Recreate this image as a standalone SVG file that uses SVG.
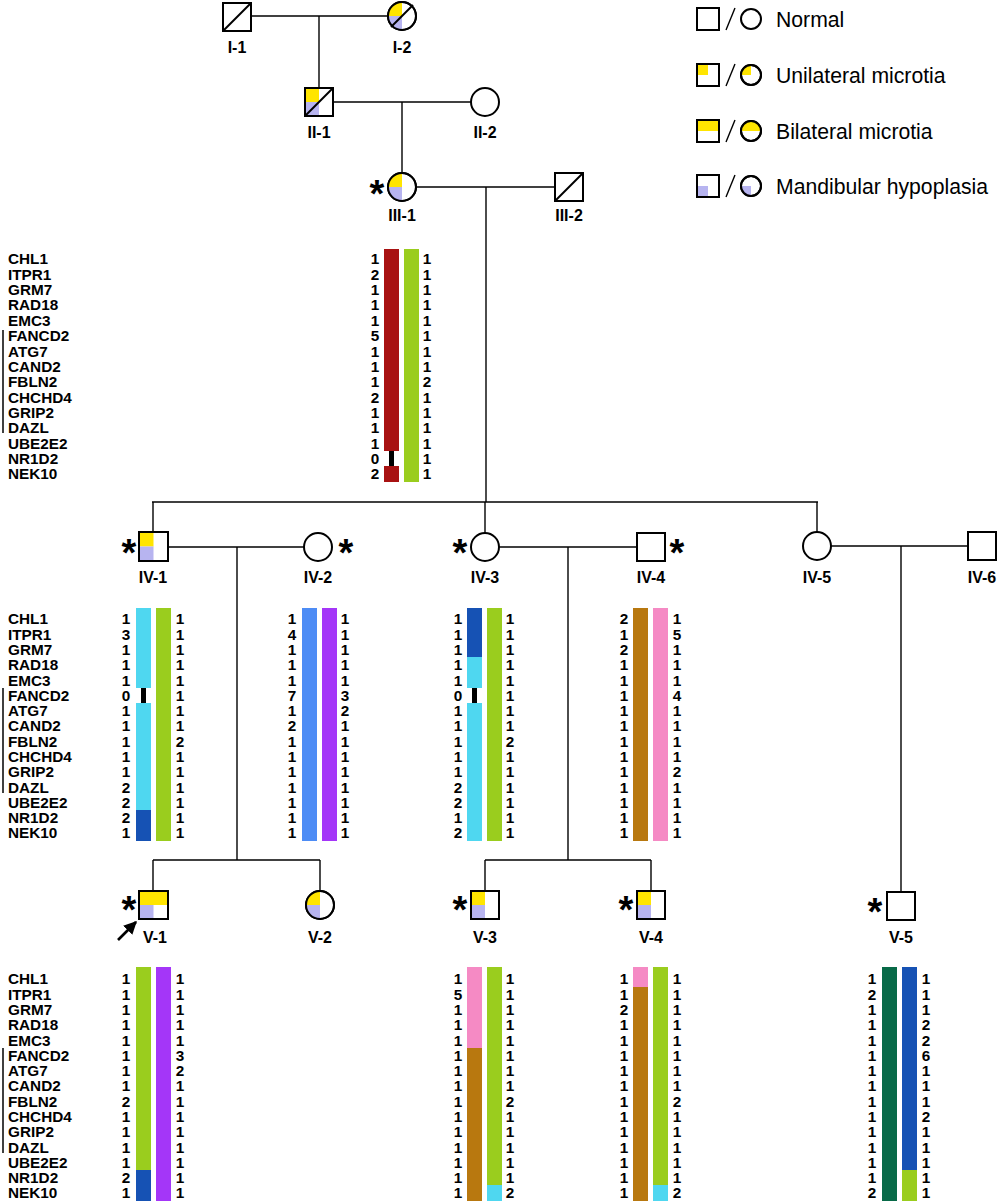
<svg xmlns="http://www.w3.org/2000/svg" width="1000" height="1202" viewBox="0 0 1000 1202">
<style>
text{font-family:"Liberation Sans",Arial,sans-serif;fill:#000}
.sym{fill:#fff;stroke:#000;stroke-width:2}
.ol{fill:none;stroke:#000;stroke-width:2}
.dg{stroke:#000;stroke-width:2}
.y{fill:#FFE500}
.m{fill:#B7B4F0}
.lbl{font-size:16px;font-weight:bold;text-anchor:middle}
.ast{font-size:38px;font-weight:bold;text-anchor:middle}
.gene{font-size:15.3px;font-weight:bold}
.n{font-size:15.3px;font-weight:bold;text-anchor:middle}
.leg{font-size:21.2px}
.con{stroke:#000;stroke-width:1.4;fill:none}
.gb{stroke:#000;stroke-width:1.5}
</style>
<defs>
<marker id="ah" viewBox="0 0 10 10" refX="9" refY="5" markerWidth="5" markerHeight="5" orient="auto"><path d="M0,0 L10,5 L0,10 Z" fill="#000"/></marker>
</defs>

<g id="connectors">
<line class="con" x1="251" y1="16" x2="388" y2="16"/>
<line class="con" x1="319" y1="16" x2="319" y2="87"/>
<line class="con" x1="334" y1="102" x2="471" y2="102"/>
<line class="con" x1="402" y1="102" x2="402" y2="173"/>
<line class="con" x1="416" y1="187" x2="555" y2="187"/>
<line class="con" x1="486" y1="187" x2="486" y2="502"/>
<line class="con" x1="152" y1="502" x2="818" y2="502"/>
<line class="con" x1="153" y1="502" x2="153" y2="532"/>
<line class="con" x1="485" y1="502" x2="485" y2="533"/>
<line class="con" x1="817" y1="502" x2="817" y2="532"/>
<line class="con" x1="168" y1="547" x2="304" y2="547"/>
<line class="con" x1="237" y1="547" x2="237" y2="860"/>
<line class="con" x1="153" y1="860" x2="320" y2="860"/>
<line class="con" x1="153" y1="860" x2="153" y2="891"/>
<line class="con" x1="320" y1="860" x2="320" y2="891"/>
<line class="con" x1="499" y1="547" x2="637" y2="547"/>
<line class="con" x1="568" y1="547" x2="568" y2="860"/>
<line class="con" x1="485" y1="860" x2="651" y2="860"/>
<line class="con" x1="485" y1="860" x2="485" y2="891"/>
<line class="con" x1="651" y1="860" x2="651" y2="891"/>
<line class="con" x1="831" y1="546" x2="968" y2="546"/>
<line class="con" x1="901" y1="546" x2="901" y2="892"/>
<line stroke="#000" stroke-width="2.6" x1="118" y1="940" x2="136" y2="922" marker-end="url(#ah)"/>
</g>

<!-- Generation I -->
<g id="I-1">
<rect class="sym" x="223" y="3" width="28" height="28"/>
<line class="dg" x1="223" y1="31" x2="251" y2="3"/>
<text class="lbl" x="237" y="53">I-1</text>
</g>
<g id="I-2">
<circle class="sym" cx="402" cy="16" r="14"/>
<path class="y" d="M402,16 L388,16 A14,14 0 0 1 402,2 Z"/>
<path class="m" d="M402,16 L402,30 A14,14 0 0 1 388,16 Z"/>
<circle class="ol" cx="402" cy="16" r="14"/>
<line class="dg" x1="391" y1="27" x2="413" y2="5"/>
<text class="lbl" x="402" y="53">I-2</text>
</g>

<!-- Generation II -->
<g id="II-1">
<rect class="sym" x="305" y="88" width="28" height="28"/>
<rect class="y" x="306" y="89" width="13" height="13"/>
<rect class="m" x="306" y="102" width="13" height="13"/>
<rect class="ol" x="305" y="88" width="28" height="28"/>
<line class="dg" x1="305" y1="116" x2="333" y2="88"/>
<text class="lbl" x="319" y="138">II-1</text>
</g>
<g id="II-2">
<circle class="sym" cx="485" cy="102" r="14"/>
<text class="lbl" x="485" y="138">II-2</text>
</g>

<!-- Generation III -->
<g id="III-1">
<circle class="sym" cx="402" cy="187" r="14"/>
<path class="y" d="M402,187 L388,187 A14,14 0 0 1 402,173 Z"/>
<path class="m" d="M402,187 L402,201 A14,14 0 0 1 388,187 Z"/>
<circle class="ol" cx="402" cy="187" r="14"/>
<text class="ast" x="377" y="207">*</text>
<text class="lbl" x="402" y="221">III-1</text>
</g>
<g id="III-2">
<rect class="sym" x="555" y="173" width="28" height="28"/>
<line class="dg" x1="555" y1="201" x2="583" y2="173"/>
<text class="lbl" x="569" y="221">III-2</text>
</g>

<!-- Generation IV -->
<g id="IV-1">
<rect class="sym" x="139" y="532" width="29" height="29"/>
<rect class="y" x="140" y="533" width="13.5" height="13.5"/>
<rect class="m" x="140" y="546.5" width="13.5" height="13.5"/>
<rect class="ol" x="139" y="532" width="29" height="29"/>
<text class="ast" x="129" y="566">*</text>
<text class="lbl" x="153" y="583">IV-1</text>
</g>
<g id="IV-2">
<circle class="sym" cx="318" cy="547" r="14"/>
<text class="ast" x="346" y="566">*</text>
<text class="lbl" x="318" y="583">IV-2</text>
</g>
<g id="IV-3">
<circle class="sym" cx="485" cy="547" r="14"/>
<text class="ast" x="460" y="566">*</text>
<text class="lbl" x="485" y="583">IV-3</text>
</g>
<g id="IV-4">
<rect class="sym" x="637" y="533" width="28" height="28"/>
<text class="ast" x="677" y="566">*</text>
<text class="lbl" x="651" y="583">IV-4</text>
</g>
<g id="IV-5">
<circle class="sym" cx="817" cy="546" r="14"/>
<text class="lbl" x="817" y="583">IV-5</text>
</g>
<g id="IV-6">
<rect class="sym" x="968" y="532" width="28" height="28"/>
<text class="lbl" x="982" y="583">IV-6</text>
</g>

<!-- Generation V -->
<g id="V-1">
<rect class="sym" x="139" y="891" width="29" height="28"/>
<rect class="y" x="140" y="892" width="27" height="13"/>
<rect class="m" x="140" y="905" width="13.5" height="13"/>
<rect class="ol" x="139" y="891" width="29" height="28"/>
<text class="ast" x="129" y="923">*</text>
<text class="lbl" x="155" y="943">V-1</text>
</g>
<g id="V-2">
<circle class="sym" cx="320" cy="905" r="14"/>
<path class="y" d="M320,905 L306,905 A14,14 0 0 1 320,891 Z"/>
<path class="m" d="M320,905 L320,919 A14,14 0 0 1 306,905 Z"/>
<circle class="ol" cx="320" cy="905" r="14"/>
<text class="lbl" x="320" y="943">V-2</text>
</g>
<g id="V-3">
<rect class="sym" x="471" y="891" width="28" height="28"/>
<rect class="y" x="472" y="892" width="13" height="13"/>
<rect class="m" x="472" y="905" width="13" height="13"/>
<rect class="ol" x="471" y="891" width="28" height="28"/>
<text class="ast" x="460" y="923">*</text>
<text class="lbl" x="485" y="943">V-3</text>
</g>
<g id="V-4">
<rect class="sym" x="637" y="891" width="28" height="28"/>
<rect class="y" x="638" y="892" width="13" height="13"/>
<rect class="m" x="638" y="905" width="13" height="13"/>
<rect class="ol" x="637" y="891" width="28" height="28"/>
<text class="ast" x="626" y="923">*</text>
<text class="lbl" x="651" y="943">V-4</text>
</g>
<g id="V-5">
<rect class="sym" x="887" y="892" width="28" height="28"/>
<text class="ast" x="875" y="925">*</text>
<text class="lbl" x="901" y="943">V-5</text>
</g>

<!-- Legend -->
<g id="legend">
<rect class="sym" x="697" y="8" width="22" height="22"/>
<line stroke="#000" stroke-width="1.4" x1="726" y1="30" x2="735" y2="8"/>
<circle class="sym" cx="751" cy="19" r="10"/>
<text class="leg" x="776" y="26.5">Normal</text>

<rect class="sym" x="697" y="64" width="22" height="22"/>
<rect class="y" x="698" y="65" width="10" height="10"/>
<rect class="ol" x="697" y="64" width="22" height="22"/>
<line stroke="#000" stroke-width="1.4" x1="726" y1="86" x2="735" y2="64"/>
<circle class="sym" cx="751" cy="75" r="10"/>
<path class="y" d="M751,75 L741,75 A10,10 0 0 1 751,65 Z"/>
<circle class="ol" cx="751" cy="75" r="10"/>
<text class="leg" x="776" y="82.5">Unilateral microtia</text>

<rect class="sym" x="697" y="120" width="22" height="22"/>
<rect class="y" x="698" y="121" width="20" height="10"/>
<rect class="ol" x="697" y="120" width="22" height="22"/>
<line stroke="#000" stroke-width="1.4" x1="726" y1="142" x2="735" y2="120"/>
<circle class="sym" cx="751" cy="131" r="10"/>
<path class="y" d="M741,131 A10,10 0 0 1 761,131 Z"/>
<circle class="ol" cx="751" cy="131" r="10"/>
<text class="leg" x="776" y="138.5">Bilateral microtia</text>

<rect class="sym" x="697" y="175" width="22" height="22"/>
<rect class="m" x="698" y="186" width="10" height="10"/>
<rect class="ol" x="697" y="175" width="22" height="22"/>
<line stroke="#000" stroke-width="1.4" x1="726" y1="197" x2="735" y2="175"/>
<circle class="sym" cx="751" cy="186" r="10"/>
<path class="m" d="M751,186 L751,196 A10,10 0 0 1 741,186 Z"/>
<circle class="ol" cx="751" cy="186" r="10"/>
<text class="leg" x="776" y="193.5">Mandibular hypoplasia</text>
</g>

<!-- Gene labels -->
<g id="genes-III" class="gene">
<line class="gb" x1="3" y1="330" x2="3" y2="433"/>
<text x="8" y="264.3">CHL1</text><text x="8" y="279.7">ITPR1</text><text x="8" y="295">GRM7</text><text x="8" y="310.4">RAD18</text><text x="8" y="325.7">EMC3</text><text x="8" y="341.1">FANCD2</text><text x="8" y="356.5">ATG7</text><text x="8" y="371.8">CAND2</text><text x="8" y="387.2">FBLN2</text><text x="8" y="402.5">CHCHD4</text><text x="8" y="417.9">GRIP2</text><text x="8" y="433.3">DAZL</text><text x="8" y="448.6">UBE2E2</text><text x="8" y="464">NR1D2</text><text x="8" y="479.3">NEK10</text>
</g>
<g id="genes-IV" class="gene">
<line class="gb" x1="3" y1="688" x2="3" y2="793"/>
<text x="8" y="624.3">CHL1</text><text x="8" y="639.6">ITPR1</text><text x="8" y="654.9">GRM7</text><text x="8" y="670.2">RAD18</text><text x="8" y="685.5">EMC3</text><text x="8" y="700.8">FANCD2</text><text x="8" y="716">ATG7</text><text x="8" y="731.3">CAND2</text><text x="8" y="746.6">FBLN2</text><text x="8" y="761.9">CHCHD4</text><text x="8" y="777.2">GRIP2</text><text x="8" y="792.5">DAZL</text><text x="8" y="807.8">UBE2E2</text><text x="8" y="823.1">NR1D2</text><text x="8" y="838.4">NEK10</text>
</g>
<g id="genes-V" class="gene">
<line class="gb" x1="3" y1="1048" x2="3" y2="1153"/>
<text x="8" y="984.3">CHL1</text><text x="8" y="999.6">ITPR1</text><text x="8" y="1014.9">GRM7</text><text x="8" y="1030.2">RAD18</text><text x="8" y="1045.5">EMC3</text><text x="8" y="1060.8">FANCD2</text><text x="8" y="1076">ATG7</text><text x="8" y="1091.3">CAND2</text><text x="8" y="1106.6">FBLN2</text><text x="8" y="1121.9">CHCHD4</text><text x="8" y="1137.2">GRIP2</text><text x="8" y="1152.5">DAZL</text><text x="8" y="1167.8">UBE2E2</text><text x="8" y="1183.1">NR1D2</text><text x="8" y="1198.4">NEK10</text>
</g>

<!-- Haplotype III-1 -->
<g id="hap-III-1">
<rect x="384" y="249" width="15" height="202" fill="#A81212"/>
<rect x="389" y="451" width="5" height="15" fill="#000"/>
<rect x="384" y="466" width="15" height="16" fill="#A81212"/>
<rect x="404" y="249" width="15" height="233" fill="#9ACD1E"/>
<g class="n">
<text x="375" y="264.3">1</text><text x="375" y="279.7">2</text><text x="375" y="295">1</text><text x="375" y="310.4">1</text><text x="375" y="325.7">1</text><text x="375" y="341.1">5</text><text x="375" y="356.5">1</text><text x="375" y="371.8">1</text><text x="375" y="387.2">1</text><text x="375" y="402.5">2</text><text x="375" y="417.9">1</text><text x="375" y="433.3">1</text><text x="375" y="448.6">1</text><text x="375" y="464">0</text><text x="375" y="479.3">2</text>
<text x="427" y="264.3">1</text><text x="427" y="279.7">1</text><text x="427" y="295">1</text><text x="427" y="310.4">1</text><text x="427" y="325.7">1</text><text x="427" y="341.1">1</text><text x="427" y="356.5">1</text><text x="427" y="371.8">1</text><text x="427" y="387.2">2</text><text x="427" y="402.5">1</text><text x="427" y="417.9">1</text><text x="427" y="433.3">1</text><text x="427" y="448.6">1</text><text x="427" y="464">1</text><text x="427" y="479.3">1</text>
</g>
</g>

<!-- Haplotype IV-1 -->
<g id="hap-IV-1">
<rect x="136" y="608" width="15" height="80" fill="#4FD7F0"/>
<rect x="141" y="688" width="5" height="15" fill="#000"/>
<rect x="136" y="703" width="15" height="107" fill="#4FD7F0"/>
<rect x="136" y="810" width="15" height="31" fill="#1652B4"/>
<rect x="156" y="608" width="15" height="233" fill="#9ACD1E"/>
<g class="n">
<text x="126" y="624.3">1</text><text x="126" y="639.6">3</text><text x="126" y="654.9">1</text><text x="126" y="670.2">1</text><text x="126" y="685.5">1</text><text x="126" y="700.8">0</text><text x="126" y="716">1</text><text x="126" y="731.3">1</text><text x="126" y="746.6">1</text><text x="126" y="761.9">1</text><text x="126" y="777.2">1</text><text x="126" y="792.5">2</text><text x="126" y="807.8">2</text><text x="126" y="823.1">2</text><text x="126" y="838.4">1</text>
<text x="180" y="624.3">1</text><text x="180" y="639.6">1</text><text x="180" y="654.9">1</text><text x="180" y="670.2">1</text><text x="180" y="685.5">1</text><text x="180" y="700.8">1</text><text x="180" y="716">1</text><text x="180" y="731.3">1</text><text x="180" y="746.6">2</text><text x="180" y="761.9">1</text><text x="180" y="777.2">1</text><text x="180" y="792.5">1</text><text x="180" y="807.8">1</text><text x="180" y="823.1">1</text><text x="180" y="838.4">1</text>
</g>
</g>

<!-- Haplotype IV-2 -->
<g id="hap-IV-2">
<rect x="302" y="608" width="15" height="233" fill="#4D8CF5"/>
<rect x="322" y="608" width="15" height="233" fill="#A436F8"/>
<g class="n">
<text x="292" y="624.3">1</text><text x="292" y="639.6">4</text><text x="292" y="654.9">1</text><text x="292" y="670.2">1</text><text x="292" y="685.5">1</text><text x="292" y="700.8">7</text><text x="292" y="716">1</text><text x="292" y="731.3">2</text><text x="292" y="746.6">1</text><text x="292" y="761.9">1</text><text x="292" y="777.2">1</text><text x="292" y="792.5">1</text><text x="292" y="807.8">1</text><text x="292" y="823.1">1</text><text x="292" y="838.4">1</text>
<text x="345" y="624.3">1</text><text x="345" y="639.6">1</text><text x="345" y="654.9">1</text><text x="345" y="670.2">1</text><text x="345" y="685.5">1</text><text x="345" y="700.8">3</text><text x="345" y="716">2</text><text x="345" y="731.3">1</text><text x="345" y="746.6">1</text><text x="345" y="761.9">1</text><text x="345" y="777.2">1</text><text x="345" y="792.5">1</text><text x="345" y="807.8">1</text><text x="345" y="823.1">1</text><text x="345" y="838.4">1</text>
</g>
</g>

<!-- Haplotype IV-3 -->
<g id="hap-IV-3">
<rect x="467" y="608" width="15" height="49" fill="#1652B4"/>
<rect x="467" y="657" width="15" height="31" fill="#4FD7F0"/>
<rect x="472" y="688" width="5" height="15" fill="#000"/>
<rect x="467" y="703" width="15" height="138" fill="#4FD7F0"/>
<rect x="487" y="608" width="15" height="233" fill="#9ACD1E"/>
<g class="n">
<text x="458" y="624.3">1</text><text x="458" y="639.6">1</text><text x="458" y="654.9">1</text><text x="458" y="670.2">1</text><text x="458" y="685.5">1</text><text x="458" y="700.8">0</text><text x="458" y="716">1</text><text x="458" y="731.3">1</text><text x="458" y="746.6">1</text><text x="458" y="761.9">1</text><text x="458" y="777.2">1</text><text x="458" y="792.5">2</text><text x="458" y="807.8">2</text><text x="458" y="823.1">1</text><text x="458" y="838.4">2</text>
<text x="510" y="624.3">1</text><text x="510" y="639.6">1</text><text x="510" y="654.9">1</text><text x="510" y="670.2">1</text><text x="510" y="685.5">1</text><text x="510" y="700.8">1</text><text x="510" y="716">1</text><text x="510" y="731.3">1</text><text x="510" y="746.6">2</text><text x="510" y="761.9">1</text><text x="510" y="777.2">1</text><text x="510" y="792.5">1</text><text x="510" y="807.8">1</text><text x="510" y="823.1">1</text><text x="510" y="838.4">1</text>
</g>
</g>

<!-- Haplotype IV-4 -->
<g id="hap-IV-4">
<rect x="633" y="608" width="15" height="233" fill="#B8780F"/>
<rect x="653" y="608" width="15" height="233" fill="#F58AC4"/>
<g class="n">
<text x="624" y="624.3">2</text><text x="624" y="639.6">1</text><text x="624" y="654.9">2</text><text x="624" y="670.2">1</text><text x="624" y="685.5">1</text><text x="624" y="700.8">1</text><text x="624" y="716">1</text><text x="624" y="731.3">1</text><text x="624" y="746.6">1</text><text x="624" y="761.9">1</text><text x="624" y="777.2">1</text><text x="624" y="792.5">1</text><text x="624" y="807.8">1</text><text x="624" y="823.1">1</text><text x="624" y="838.4">1</text>
<text x="677" y="624.3">1</text><text x="677" y="639.6">5</text><text x="677" y="654.9">1</text><text x="677" y="670.2">1</text><text x="677" y="685.5">1</text><text x="677" y="700.8">4</text><text x="677" y="716">1</text><text x="677" y="731.3">1</text><text x="677" y="746.6">1</text><text x="677" y="761.9">1</text><text x="677" y="777.2">2</text><text x="677" y="792.5">1</text><text x="677" y="807.8">1</text><text x="677" y="823.1">1</text><text x="677" y="838.4">1</text>
</g>
</g>

<!-- Haplotype V-1 -->
<g id="hap-V-1">
<rect x="136" y="967" width="15" height="203" fill="#9ACD1E"/>
<rect x="136" y="1170" width="15" height="31" fill="#1652B4"/>
<rect x="156" y="967" width="15" height="234" fill="#A436F8"/>
<g class="n">
<text x="126" y="984.3">1</text><text x="126" y="999.6">1</text><text x="126" y="1014.9">1</text><text x="126" y="1030.2">1</text><text x="126" y="1045.5">1</text><text x="126" y="1060.8">1</text><text x="126" y="1076">1</text><text x="126" y="1091.3">1</text><text x="126" y="1106.6">2</text><text x="126" y="1121.9">1</text><text x="126" y="1137.2">1</text><text x="126" y="1152.5">1</text><text x="126" y="1167.8">1</text><text x="126" y="1183.1">2</text><text x="126" y="1198.4">1</text>
<text x="180" y="984.3">1</text><text x="180" y="999.6">1</text><text x="180" y="1014.9">1</text><text x="180" y="1030.2">1</text><text x="180" y="1045.5">1</text><text x="180" y="1060.8">3</text><text x="180" y="1076">2</text><text x="180" y="1091.3">1</text><text x="180" y="1106.6">1</text><text x="180" y="1121.9">1</text><text x="180" y="1137.2">1</text><text x="180" y="1152.5">1</text><text x="180" y="1167.8">1</text><text x="180" y="1183.1">1</text><text x="180" y="1198.4">1</text>
</g>
</g>

<!-- Haplotype V-3 -->
<g id="hap-V-3">
<rect x="467" y="967" width="15" height="81" fill="#F58AC4"/>
<rect x="467" y="1048" width="15" height="153" fill="#B8780F"/>
<rect x="487" y="967" width="15" height="218" fill="#9ACD1E"/>
<rect x="487" y="1185" width="15" height="16" fill="#4FD7F0"/>
<g class="n">
<text x="458" y="984.3">1</text><text x="458" y="999.6">5</text><text x="458" y="1014.9">1</text><text x="458" y="1030.2">1</text><text x="458" y="1045.5">1</text><text x="458" y="1060.8">1</text><text x="458" y="1076">1</text><text x="458" y="1091.3">1</text><text x="458" y="1106.6">1</text><text x="458" y="1121.9">1</text><text x="458" y="1137.2">1</text><text x="458" y="1152.5">1</text><text x="458" y="1167.8">1</text><text x="458" y="1183.1">1</text><text x="458" y="1198.4">1</text>
<text x="510" y="984.3">1</text><text x="510" y="999.6">1</text><text x="510" y="1014.9">1</text><text x="510" y="1030.2">1</text><text x="510" y="1045.5">1</text><text x="510" y="1060.8">1</text><text x="510" y="1076">1</text><text x="510" y="1091.3">1</text><text x="510" y="1106.6">2</text><text x="510" y="1121.9">1</text><text x="510" y="1137.2">1</text><text x="510" y="1152.5">1</text><text x="510" y="1167.8">1</text><text x="510" y="1183.1">1</text><text x="510" y="1198.4">2</text>
</g>
</g>

<!-- Haplotype V-4 -->
<g id="hap-V-4">
<rect x="633" y="967" width="15" height="20" fill="#F58AC4"/>
<rect x="633" y="987" width="15" height="214" fill="#B8780F"/>
<rect x="653" y="967" width="15" height="218" fill="#9ACD1E"/>
<rect x="653" y="1185" width="15" height="16" fill="#4FD7F0"/>
<g class="n">
<text x="624" y="984.3">1</text><text x="624" y="999.6">1</text><text x="624" y="1014.9">2</text><text x="624" y="1030.2">1</text><text x="624" y="1045.5">1</text><text x="624" y="1060.8">1</text><text x="624" y="1076">1</text><text x="624" y="1091.3">1</text><text x="624" y="1106.6">1</text><text x="624" y="1121.9">1</text><text x="624" y="1137.2">1</text><text x="624" y="1152.5">1</text><text x="624" y="1167.8">1</text><text x="624" y="1183.1">1</text><text x="624" y="1198.4">1</text>
<text x="677" y="984.3">1</text><text x="677" y="999.6">1</text><text x="677" y="1014.9">1</text><text x="677" y="1030.2">1</text><text x="677" y="1045.5">1</text><text x="677" y="1060.8">1</text><text x="677" y="1076">1</text><text x="677" y="1091.3">1</text><text x="677" y="1106.6">2</text><text x="677" y="1121.9">1</text><text x="677" y="1137.2">1</text><text x="677" y="1152.5">1</text><text x="677" y="1167.8">1</text><text x="677" y="1183.1">1</text><text x="677" y="1198.4">2</text>
</g>
</g>

<!-- Haplotype V-5 -->
<g id="hap-V-5">
<rect x="882" y="967" width="15" height="234" fill="#086A48"/>
<rect x="902" y="967" width="15" height="203" fill="#1652B4"/>
<rect x="902" y="1170" width="15" height="31" fill="#9ACD1E"/>
<g class="n">
<text x="872" y="984.3">1</text><text x="872" y="999.6">2</text><text x="872" y="1014.9">1</text><text x="872" y="1030.2">1</text><text x="872" y="1045.5">1</text><text x="872" y="1060.8">1</text><text x="872" y="1076">1</text><text x="872" y="1091.3">1</text><text x="872" y="1106.6">1</text><text x="872" y="1121.9">1</text><text x="872" y="1137.2">1</text><text x="872" y="1152.5">1</text><text x="872" y="1167.8">1</text><text x="872" y="1183.1">1</text><text x="872" y="1198.4">2</text>
<text x="926" y="984.3">1</text><text x="926" y="999.6">1</text><text x="926" y="1014.9">1</text><text x="926" y="1030.2">2</text><text x="926" y="1045.5">2</text><text x="926" y="1060.8">6</text><text x="926" y="1076">1</text><text x="926" y="1091.3">1</text><text x="926" y="1106.6">1</text><text x="926" y="1121.9">2</text><text x="926" y="1137.2">1</text><text x="926" y="1152.5">1</text><text x="926" y="1167.8">1</text><text x="926" y="1183.1">1</text><text x="926" y="1198.4">1</text>
</g>
</g>
</svg>
